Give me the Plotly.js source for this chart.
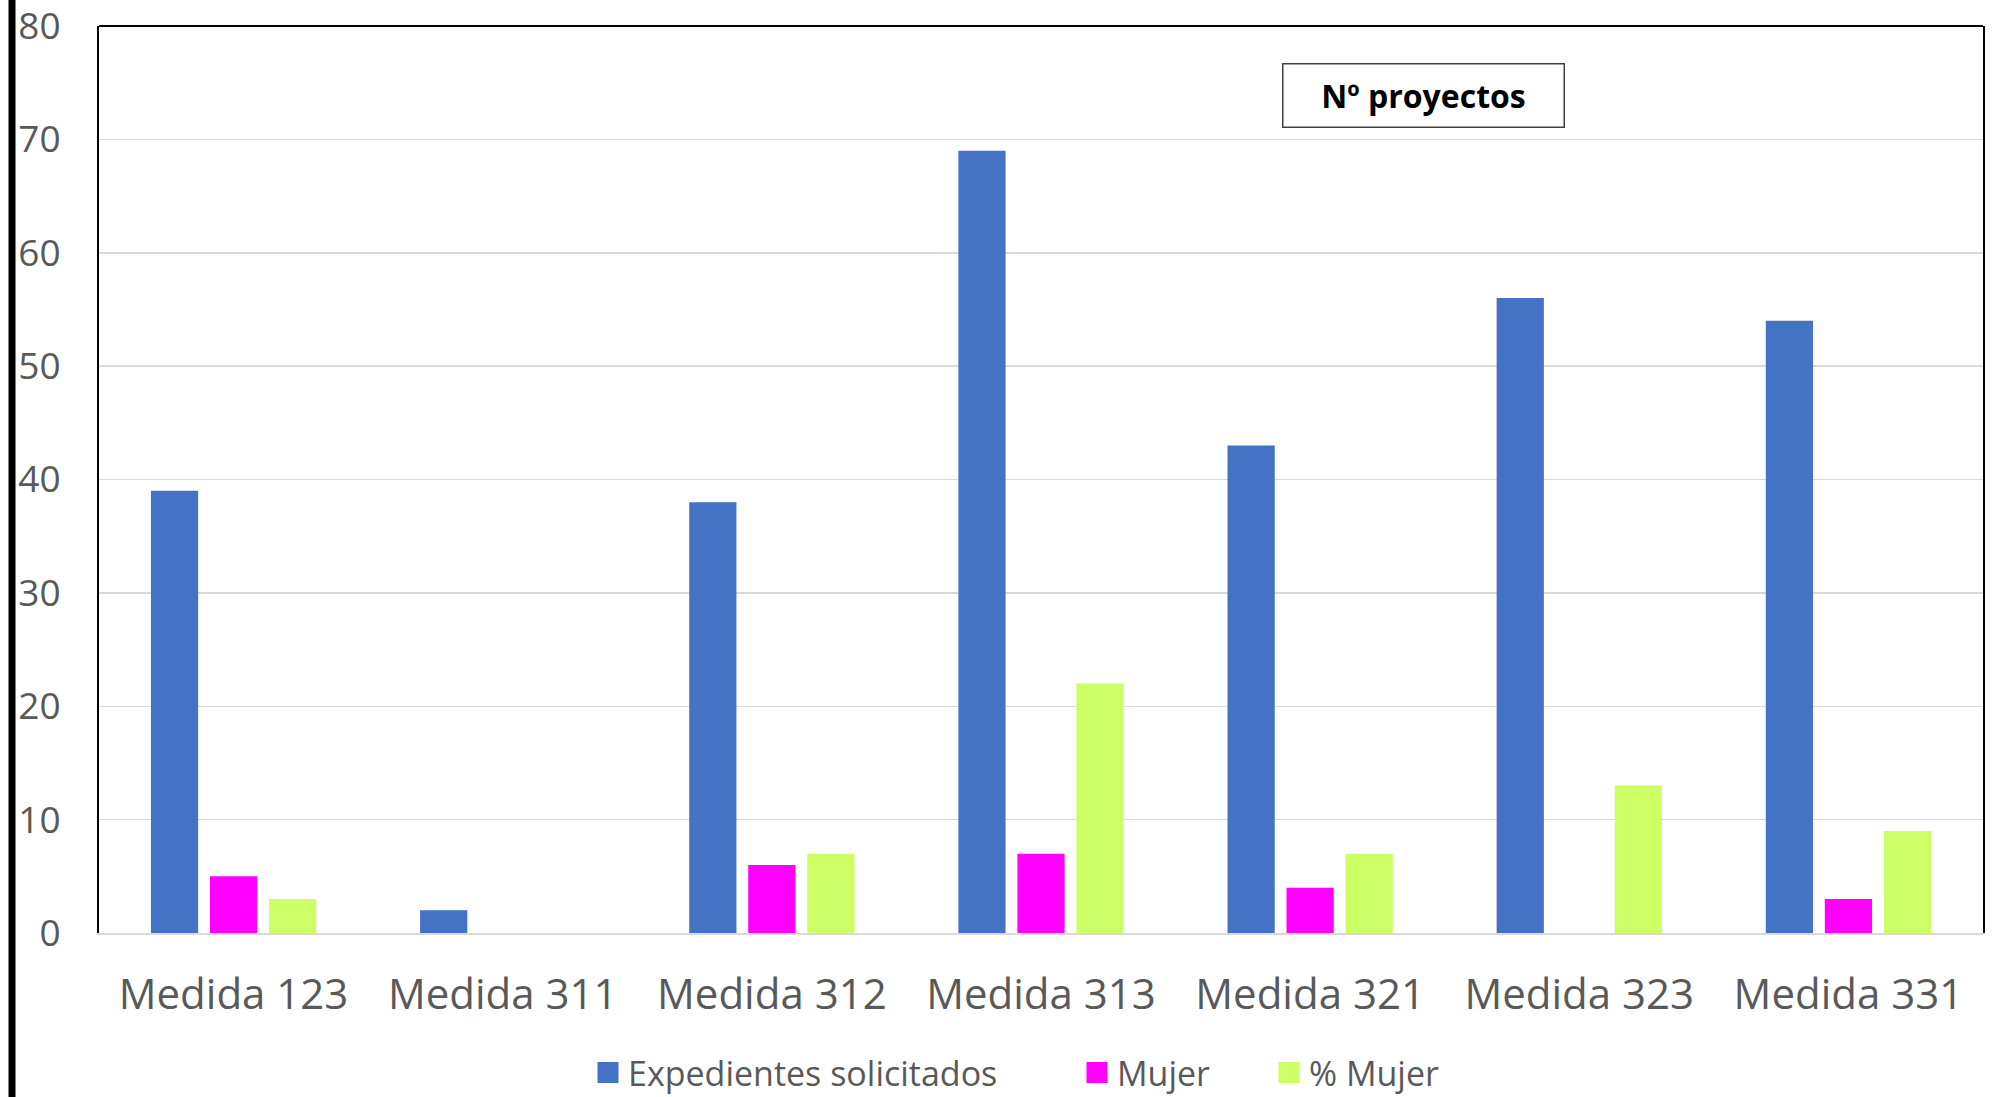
<!DOCTYPE html>
<html>
<head>
<meta charset="utf-8">
<script src="https://cdn.plot.ly/plotly-3.0.1.min.js"></script>
<style>html,body{margin:0;padding:0;background:#fff;overflow:hidden;}#chart{width:1992px;height:1097px;}</style>
</head>
<body>
<div id="chart"></div>
<script>
const categories = ["Medida 123", "Medida 311", "Medida 312", "Medida 313", "Medida 321", "Medida 323", "Medida 331"];
const expedientes = [39, 2, 38, 69, 43, 56, 54];
const mujer = [5, 0, 6, 7, 4, 0, 3];
const pctMujer = [3, 0, 7, 22, 7, 13, 9];
const yTicks = [0, 10, 20, 30, 40, 50, 60, 70, 80];
const seriesNames = ["Expedientes solicitados", "Mujer", "% Mujer"];
const chartTitle = "Nº proyectos";

const colors = ["#4472C4", "#FF00FF", "#CCFF66"];
const series = [expedientes, mujer, pctMujer];
const legendIds = ["legend", "legend2", "legend3"];

const bars = series.map((vals, i) => ({
  type: "bar",
  x: categories,
  y: vals,
  name: seriesNames[i],
  legendgroup: "g" + i,
  showlegend: false,
  marker: {color: colors[i]},
  hoverinfo: "x+y+name"
}));
// legend entries (square swatches like the original)
const legendEntries = series.map((vals, i) => ({
  type: "scatter",
  mode: "markers",
  x: [categories[0]],
  y: [null],
  name: seriesNames[i],
  legendgroup: "g" + i,
  legend: legendIds[i],
  showlegend: true,
  marker: {symbol: "square", size: 16, color: colors[i], line: {color: colors[i], width: 5}},
  hoverinfo: "skip"
}));

const plotL = 99, plotW = 1884, plotB = 933, plotH = 907;
const legendLeftPx = [588, 1077, 1269];
function legendAt(px) {
  return {
    orientation: "h",
    x: (px - plotL) / plotW,
    xanchor: "left",
    y: (plotB - 1073) / plotH,
    yanchor: "middle",
    font: {size: 34, color: "#595959", family: "Open Sans, sans-serif"},
    bgcolor: "rgba(0,0,0,0)",
    itemclick: false
  };
}

const layout = {
  width: 1992,
  height: 1097,
  margin: {l: 99, r: 9, t: 26, b: 164, autoexpand: false},
  paper_bgcolor: "#ffffff",
  plot_bgcolor: "#ffffff",
  barmode: "group",
  bargap: 0.342,
  bargroupgap: 0.2,
  font: {family: "Open Sans, sans-serif", color: "#595959"},
  xaxis: {
    type: "category",
    showgrid: false,
    showline: true,
    linecolor: "#d9d9d9",
    linewidth: 2,
    ticks: "",
    ticklabelstandoff: 24,
    tickfont: {size: 42, color: "#595959", family: "Open Sans, sans-serif"},
    zeroline: false
  },
  yaxis: {
    range: [0, 80],
    tickvals: yTicks,
    ticktext: yTicks.map(String),
    showgrid: true,
    gridcolor: "#d9d9d9",
    gridwidth: 1.5,
    showline: true,
    mirror: true,
    linecolor: "#000000",
    linewidth: 2,
    ticks: "",
    ticklabelstandoff: 29,
    ticklabeloverflow: "allow",
    tickfont: {size: 37, color: "#595959", family: "Open Sans, sans-serif"},
    zeroline: false
  },
  showlegend: true,
  legend: legendAt(legendLeftPx[0]),
  legend2: legendAt(legendLeftPx[1]),
  legend3: legendAt(legendLeftPx[2]),
  shapes: [
    {type: "line", xref: "paper", yref: "paper", x0: 0, x1: 1, y0: 1, y1: 1, line: {color: "#000000", width: 2}},
    {type: "line", xref: "paper", yref: "paper", x0: (12 - plotL) / plotW, x1: (12 - plotL) / plotW, y0: -0.19, y1: 1.04, line: {color: "#000000", width: 7}}
  ],
  annotations: [
    {
      text: "<b>" + chartTitle + "</b>",
      xref: "paper", yref: "paper",
      x: (1423 - plotL) / plotW, y: (plotB - 95) / plotH,
      xanchor: "center", yanchor: "middle",
      showarrow: false,
      font: {size: 32, color: "#000000", family: "Open Sans, sans-serif"},
      bordercolor: "#404040",
      borderwidth: 1.5,
      borderpad: 10,
      width: 260,
      height: 42,
      bgcolor: "#ffffff"
    }
  ]
};

Plotly.newPlot("chart", bars.concat(legendEntries), layout, {displayModeBar: false, staticPlot: true});
</script>
</body>
</html>
